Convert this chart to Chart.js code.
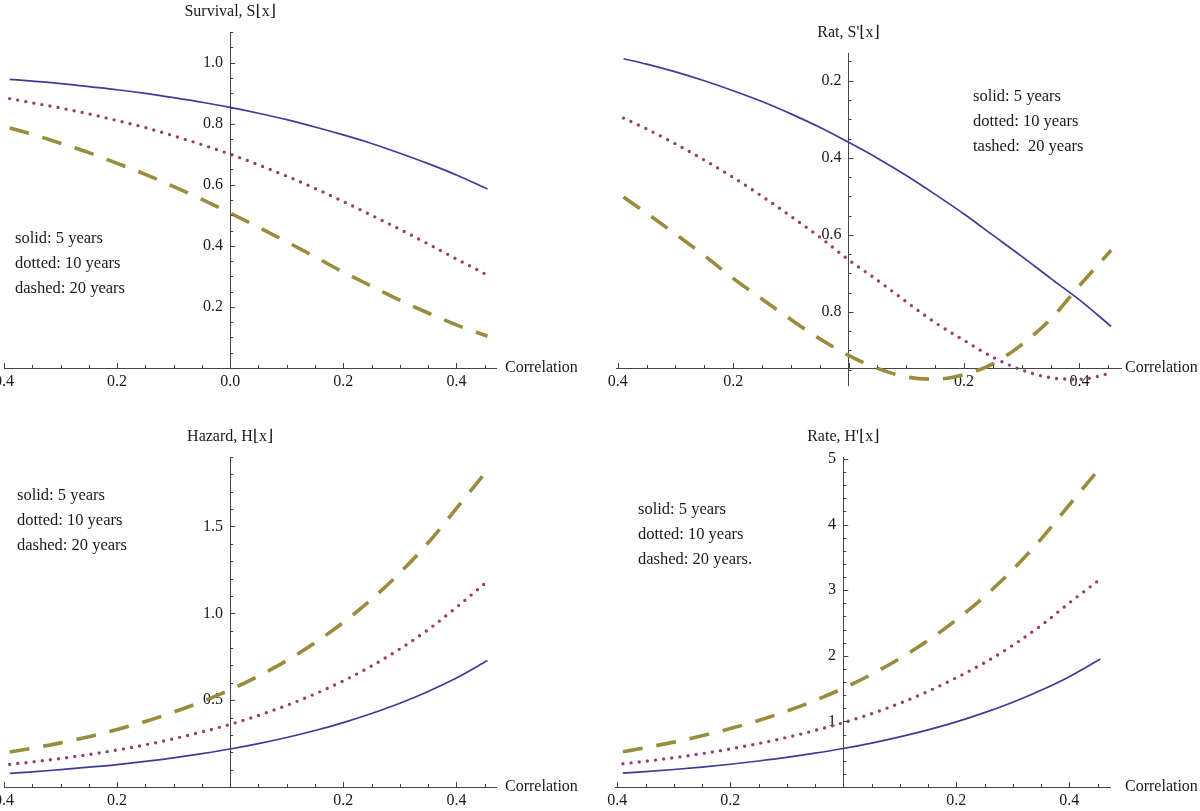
<!DOCTYPE html>
<html>
<head>
<meta charset="utf-8">
<script src="https://cdn.jsdelivr.net/npm/chart.js@4.4.0/dist/chart.umd.min.js"></script>
<style>
  html, body { margin: 0; padding: 0; background: #fff; overflow: hidden; }
  #wrap { position: relative; width: 1200px; height: 811px; }
  canvas { position: absolute; }
</style>
</head>
<body>
<div id="wrap">
  <canvas id="c1" width="600" height="400" style="left:0;top:0"></canvas>
  <canvas id="c2" width="600" height="400" style="left:600px;top:0"></canvas>
  <canvas id="c3" width="600" height="411" style="left:0;top:400px"></canvas>
  <canvas id="c4" width="600" height="411" style="left:600px;top:400px"></canvas>
</div>
<script>
const corr = [-0.39, -0.35, -0.3, -0.25, -0.2, -0.15, -0.1, -0.05, 0, 0.05, 0.1, 0.15, 0.2, 0.25, 0.3, 0.35, 0.4, 0.455];

// survival S(x)
const surv5  = [0.945, 0.939, 0.931, 0.921, 0.911, 0.899, 0.885, 0.870, 0.853, 0.834, 0.813, 0.789, 0.763, 0.735, 0.703, 0.669, 0.632, 0.586];
const surv10 = [0.882, 0.868, 0.851, 0.832, 0.810, 0.787, 0.760, 0.731, 0.700, 0.665, 0.628, 0.588, 0.545, 0.500, 0.454, 0.406, 0.357, 0.304];
const surv20 = [0.786, 0.765, 0.736, 0.705, 0.670, 0.634, 0.594, 0.552, 0.507, 0.461, 0.413, 0.364, 0.314, 0.268, 0.222, 0.180, 0.141, 0.104];

// rate S'(x)
const rat5  = [-0.143, -0.157, -0.177, -0.200, -0.226, -0.254, -0.286, -0.321, -0.360, -0.401, -0.446, -0.495, -0.546, -0.601, -0.656, -0.713, -0.769, -0.838];
const rat10 = [-0.297, -0.325, -0.364, -0.406, -0.451, -0.500, -0.552, -0.606, -0.665, -0.718, -0.774, -0.828, -0.874, -0.918, -0.951, -0.971, -0.975, -0.959];
const rat20 = [-0.502, -0.544, -0.598, -0.654, -0.713, -0.767, -0.820, -0.870, -0.913, -0.947, -0.969, -0.975, -0.963, -0.935, -0.885, -0.819, -0.732, -0.640];

// hazard H(x)
const haz5  = [0.079, 0.087, 0.100, 0.114, 0.129, 0.148, 0.168, 0.192, 0.219, 0.250, 0.285, 0.325, 0.371, 0.423, 0.482, 0.550, 0.627, 0.728];
const haz10 = [0.130, 0.144, 0.164, 0.187, 0.213, 0.243, 0.278, 0.317, 0.361, 0.412, 0.470, 0.536, 0.611, 0.697, 0.795, 0.906, 1.034, 1.185];
const haz20 = [0.201, 0.223, 0.254, 0.290, 0.331, 0.377, 0.431, 0.491, 0.560, 0.639, 0.728, 0.831, 0.948, 1.081, 1.233, 1.406, 1.604, 1.825];

// rate H'(x)
const hr5  = [0.211, 0.234, 0.267, 0.304, 0.347, 0.396, 0.451, 0.515, 0.587, 0.670, 0.764, 0.871, 0.993, 1.133, 1.292, 1.474, 1.681, 1.950];
const hr10 = [0.355, 0.392, 0.446, 0.508, 0.580, 0.662, 0.756, 0.862, 0.980, 1.118, 1.276, 1.458, 1.665, 1.895, 2.160, 2.462, 2.806, 3.170];
const hr20 = [0.538, 0.599, 0.684, 0.780, 0.890, 1.014, 1.157, 1.320, 1.505, 1.717, 1.958, 2.233, 2.547, 2.905, 3.313, 3.779, 4.300, 4.870];

const xMajor = [-0.4, -0.2, 0, 0.2, 0.4];

const BLUE = '#3d3d99', PURPLE = '#993d71', GOLD = '#998c3d';

Chart.defaults.font.family = '"Liberation Serif", "DejaVu Serif", serif';
Chart.defaults.font.size = 16;
Chart.defaults.color = '#1a1a1a';

function series(ys) {
  return corr.map((x, i) => ({ x: x, y: ys[i] }));
}

function lines(a, b, c) {
  const common = { pointRadius: 0, fill: false, cubicInterpolationMode: 'monotone' };
  return [
    Object.assign({ data: series(a), borderColor: BLUE, borderWidth: 1.7 }, common),
    Object.assign({ data: series(b), borderColor: PURPLE, borderWidth: 3.4, borderDash: [0, 8.2], borderCapStyle: 'round' }, common),
    Object.assign({ data: series(c), borderColor: GOLD, borderWidth: 3.6, borderDash: [20, 14], borderCapStyle: 'butt' }, common)
  ];
}

// axis ticks, titles and the little legend text, Mathematica style
function decor(cfg) {
  return {
    id: 'decor',
    afterDraw(chart) {
      const ctx = chart.ctx, xs = chart.scales.x, ys = chart.scales.y;
      const ax = xs.getPixelForValue(0);
      const ay = ys.getPixelForValue(cfg.xAxisAt);
      ctx.save();
      ctx.strokeStyle = '#444';
      ctx.lineWidth = 1;
      ctx.beginPath();
      for (let v = cfg.xMin; v <= cfg.xMax + 1e-9; v += 0.05) {
        const r = Math.round(v * 100) / 100;
        const big = Math.abs(r / 0.2 - Math.round(r / 0.2)) < 1e-6;
        const px = Math.round(xs.getPixelForValue(r)) + 0.5;
        ctx.moveTo(px, ay);
        ctx.lineTo(px, ay - (big ? 5 : 3));
      }
      for (let k = Math.ceil(cfg.yLo / cfg.yStep - 1e-9); k * cfg.yStep <= cfg.yHi + 1e-9; k++) {
        const v = k * cfg.yStep;
        if (Math.abs(v - cfg.xAxisAt) < 1e-9) continue;
        const big = Math.abs(v / cfg.yMajor - Math.round(v / cfg.yMajor)) < 1e-6;
        const py = Math.round(ys.getPixelForValue(v)) + 0.5;
        ctx.moveTo(ax, py);
        ctx.lineTo(ax + (big ? 5 : 3), py);
      }
      ctx.stroke();

      ctx.fillStyle = '#1a1a1a';
      ctx.font = '16px "Liberation Serif", "DejaVu Serif", serif';
      ctx.textBaseline = 'middle';
      ctx.textAlign = 'center';
      ctx.fillText(cfg.title, ax, chart.chartArea.top - 20);
      ctx.textAlign = 'left';
      ctx.fillText('Correlation', chart.chartArea.right + cfg.corrGap, ay);
      ctx.font = '16.5px "Liberation Serif", "DejaVu Serif", serif';
      cfg.legend.forEach((t, i) => ctx.fillText(t, cfg.legendX, cfg.legendY + i * 25));
      ctx.restore();
    }
  };
}

function makeChart(id, data, cfg) {
  new Chart(document.getElementById(id), {
    type: 'line',
    data: { datasets: data },
    options: {
      responsive: false,
      animation: false,
      layout: { padding: cfg.pad },
      plugins: { legend: { display: false }, tooltip: { enabled: false } },
      scales: {
        x: {
          type: 'linear',
          min: cfg.xMin, max: cfg.xMax,
          position: { y: cfg.xAxisAt },
          grid: { display: false, drawTicks: false },
          border: { display: true, color: '#444', width: 1 },
          ticks: {
            padding: 4, autoSkip: false, maxRotation: 0,
            callback: v => (Math.abs(v) < 1e-9 ? cfg.zeroLabel : Math.abs(v).toFixed(1))
          },
          afterBuildTicks: s => { s.ticks = xMajor.map(v => ({ value: v })); },
          afterFit: s => { s.paddingLeft = 0; s.paddingRight = 0; }
        },
        y: {
          type: 'linear',
          min: cfg.yMin, max: cfg.yMax,
          position: { x: 0 },
          grid: { display: false, drawTicks: false },
          border: { display: true, color: '#444', width: 1 },
          ticks: {
            autoSkip: false,
            // labels sit right on the axis when it is placed by value, so pad with a space
            callback: v => cfg.yFmt(Math.abs(v)) + ' \u2009'
          },
          afterBuildTicks: s => { s.ticks = cfg.yTicks.map(v => ({ value: v })); },
          afterFit: s => { s.paddingTop = 0; s.paddingBottom = 0; }
        }
      }
    },
    plugins: [decor(cfg)]
  });
}

makeChart('c1', lines(surv5, surv10, surv20), {
  pad: { left: 4, right: 104, top: 32, bottom: 32 },
  xMin: -0.4, xMax: 0.47, yMin: 0, yMax: 1.1, xAxisAt: 0,
  yTicks: [0.2, 0.4, 0.6, 0.8, 1.0], yFmt: v => v.toFixed(1), zeroLabel: '0.0',
  yLo: 0.05, yHi: 1.1, yStep: 0.05, yMajor: 0.2, corrGap: 9,
  title: 'Survival, S\u230Ax\u230B',
  legend: ['solid: 5 years', 'dotted: 10 years', 'dashed: 20 years'], legendX: 15, legendY: 239
});

makeChart('c2', lines(rat5, rat10, rat20), {
  pad: { left: 16, right: 79, top: 53, bottom: 15 },
  xMin: -0.403, xMax: 0.472, yMin: -0.99, yMax: -0.128, xAxisAt: -0.946,
  yTicks: [-0.8, -0.6, -0.4, -0.2], yFmt: v => v.toFixed(1), zeroLabel: '',
  yLo: -0.95, yHi: -0.15, yStep: 0.05, yMajor: 0.2, corrGap: 4,
  title: "Rat, S'\u230Ax\u230B",
  legend: ['solid: 5 years', 'dotted: 10 years', 'tashed:  20 years'], legendX: 373, legendY: 97
});

makeChart('c3', lines(haz5, haz10, haz20), {
  pad: { left: 4, right: 104, top: 57, bottom: 24 },
  xMin: -0.4, xMax: 0.47, yMin: 0, yMax: 1.9, xAxisAt: 0,
  yTicks: [0.5, 1.0, 1.5], yFmt: v => v.toFixed(1), zeroLabel: '',
  yLo: 0.1, yHi: 1.9, yStep: 0.1, yMajor: 0.5, corrGap: 9,
  title: 'Hazard, H\u230Ax\u230B',
  legend: ['solid: 5 years', 'dotted: 10 years', 'dashed: 20 years'], legendX: 17, legendY: 96
});

makeChart('c4', lines(hr5, hr10, hr20), {
  pad: { left: 15, right: 90, top: 57, bottom: 24 },
  xMin: -0.404, xMax: 0.472, yMin: 0, yMax: 5.03, xAxisAt: 0,
  yTicks: [1, 2, 3, 4, 5], yFmt: v => String(Math.round(v)), zeroLabel: '',
  yLo: 0.2, yHi: 5.0, yStep: 0.2, yMajor: 1, corrGap: 15,
  title: "Rate, H'\u230Ax\u230B",
  legend: ['solid: 5 years', 'dotted: 10 years', 'dashed: 20 years.'], legendX: 38, legendY: 110
});
</script>
</body>
</html>
